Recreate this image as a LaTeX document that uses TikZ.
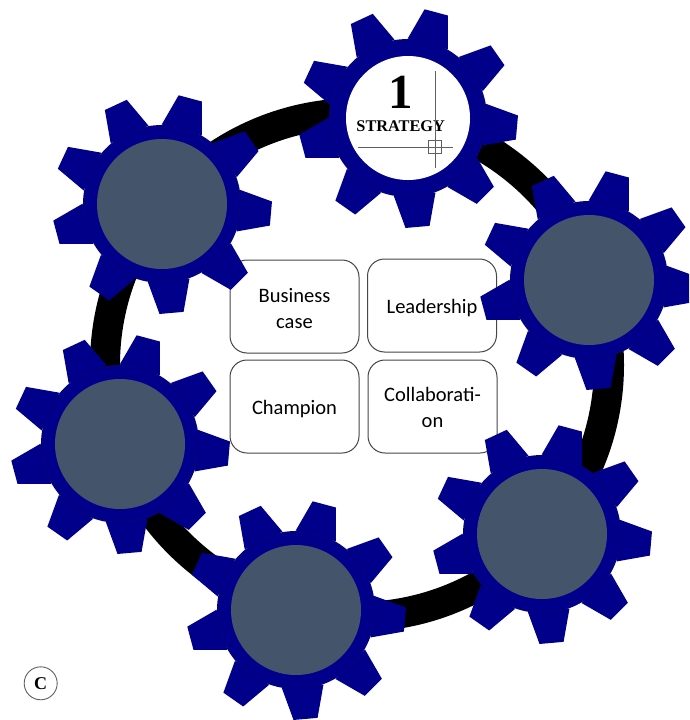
\documentclass[tikz,border=0pt]{standalone}
\usepackage{fontspec}
\setmainfont{Carlito}
\newfontfamily\timesfont{Liberation Serif}
\definecolor{gearblue}{RGB}{0,0,139}
\definecolor{gearedge}{RGB}{10,10,105}
\definecolor{hubgrey}{RGB}{68,84,106}
\definecolor{boxline}{RGB}{70,70,70}
\definecolor{markline}{RGB}{95,95,95}
\tikzset{
  infobox/.style={draw=boxline,line width=1pt,rounded corners=17pt,fill=white,minimum width=129pt,minimum height=93pt,inner sep=0pt,align=center,font=\fontsize{20.5}{26}\selectfont},
  hub/.style={circle,inner sep=0pt,minimum size=130pt},
  markstroke/.style={draw=markline,line width=0.9pt}
}
\newcommand{\gearbody}[2]{%
  \foreach \a in {75,35,-5,-45,-85,-125,-165,-205,-245}{
    \fill[gearblue] ([shift={(#1,#2)}]{\a+15.2}:79.5 and -79.5) -- ([shift={(#1,#2)}]{\a+6.3}:110 and -110) -- ([shift={(#1,#2)}]{\a-6.3}:110 and -110) -- ([shift={(#1,#2)}]{\a-15.2}:79.5 and -79.5) -- cycle;
  }
  \fill[gearblue] (#1,#2) circle[radius=79];
  \draw[gearedge,line width=0.4pt] (#1,#2) circle[radius=78];
}
\begin{document}
\begin{tikzpicture}[x=1pt,y=-1pt]
\useasboundingbox (0,0) rectangle (689,720);
\clip (0,0) rectangle (689,720);
\draw[black,line width=30pt] (357,365) circle[radius=252];
\node[infobox] (bc) at (294.5,306.5) {\rule{0pt}{18pt}Business\\case};
\node[infobox,text height=16pt,text depth=0pt] (ld) at (432,305.5) {Leadership};
\node[infobox,text height=15pt,text depth=0pt] (ch) at (294.5,406.5) {Champion};
\node[infobox] (co) at (432.5,406.5) {\rule{0pt}{17pt}Collaborati-\\on};
\gearbody{408}{118}
\gearbody{162}{204}
\gearbody{589}{280}
\gearbody{120}{444}
\gearbody{542}{534}
\gearbody{296}{610}
\node[hub,fill=white,minimum size=124pt] (g1) at (408,118) {};
\node[hub,fill=hubgrey] (g2) at (162,204) {};
\node[hub,fill=hubgrey] (g3) at (589,280) {};
\node[hub,fill=hubgrey] (g4) at (120,444) {};
\node[hub,fill=hubgrey] (g5) at (542,534) {};
\node[hub,fill=hubgrey] (g6) at (296,610) {};
\node[font=\timesfont\bfseries\fontsize{49}{49}\selectfont,inner sep=0pt] (num) at (401,92) {1};
\node[font=\timesfont\bfseries\fontsize{16.3}{16}\selectfont,inner sep=0pt] (st) at (400.7,126) {STRATEGY};
\coordinate (vt) at (435,71);
\coordinate (vb) at (435,168);
\coordinate (hl) at (358,147.3);
\coordinate (hr) at (453,147.3);
\draw[markstroke] (vt) -- (vb);
\draw[markstroke] (hl) -- (hr);
\node[draw=markline,line width=0.9pt,minimum size=13pt,inner sep=0pt] (sq) at (435,147.3) {};
\node[circle,draw=markline,line width=0.9pt,minimum size=33pt,inner sep=0pt,font=\timesfont\bfseries\fontsize{18}{18}\selectfont] (c) at (40.7,683.3) {C};
\end{tikzpicture}
\end{document}
